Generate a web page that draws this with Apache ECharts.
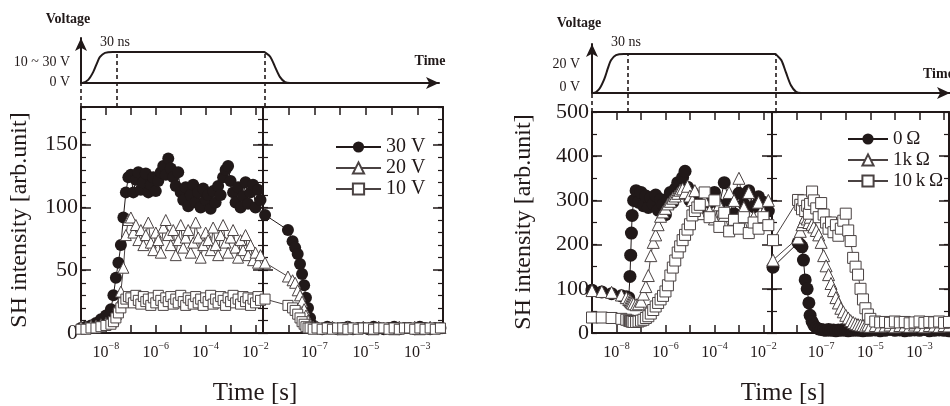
<!DOCTYPE html>
<html>
<head>
<meta charset="utf-8">
<script src="https://cdn.jsdelivr.net/npm/echarts@6/dist/echarts.min.js"></script>
<style>
  html, body { margin: 0; padding: 0; background: #fff; }
  #chart { width: 950px; height: 406px; }
</style>
</head>
<body>
<div id="chart"></div>
<script>
// x values are log10(time / s); every panel has a "pulse on" part and a "pulse off" part
const timeA1 = [-9.0,-8.8,-8.6,-8.4,-8.2,-8.0,-7.8,-7.7,-7.6,-7.5,-7.4,-7.3,-7.2,-7.1,
  -7.0,-6.9,-6.8,-6.7,-6.6,-6.5,-6.4,-6.3,-6.2,-6.1,-6.0,-5.9,-5.8,-5.7,-5.6,-5.5,-5.4,-5.3,-5.2,-5.1,
  -5.0,-4.9,-4.8,-4.7,-4.6,-4.5,-4.4,-4.3,-4.2,-4.1,-4.0,-3.9,-3.8,-3.7,-3.6,-3.5,-3.4,-3.3,-3.2,-3.1,
  -3.0,-2.9,-2.8,-2.7,-2.6,-2.5,-2.4,-2.3,-2.2,-2.1,-2.0,-1.9,-1.8];
const v30A1 = [4,5,6,8,11,14,19,30,44,56,70,92,112,124,
  126,112,122,128,114,120,127,112,118,124,113,121,128,133,126,139,131,124,117,128,
  112,106,116,101,110,118,104,112,100,115,106,110,99,113,104,117,110,124,130,133,
  121,112,104,116,100,109,120,103,112,118,100,114,106];
const v20A1 = [5,5,6,6,7,8,9,11,15,22,33,52,78,90,
  92,80,86,74,82,70,78,88,72,66,80,74,64,84,90,78,70,82,62,74,
  86,68,76,82,64,72,88,76,60,70,80,74,66,84,70,62,78,86,72,64,
  76,82,68,60,74,66,78,62,70,58,64,56,62];
const v10A1 = [3,3,4,4,5,6,7,9,12,16,20,24,27,29,
  28,24,30,26,23,29,25,27,22,28,24,30,26,22,28,25,29,23,27,24,
  30,25,22,28,26,23,29,24,27,22,28,25,30,23,27,24,29,26,22,28,
  25,30,24,27,23,29,25,28,22,27,24,29,26];

const timeA2 = [-8.92,-8.03,-7.85,-7.75,-7.65,-7.56,-7.48,-7.4,-7.33,-7.25,-7.17,-7.05,-6.9,-6.7,-6.5,-6.3,-6.1,-5.9,-5.7,-5.5,-5.3,-5.1,-4.9,-4.7,-4.5,-4.3,-4.1,-3.9,-3.7,-3.5,-3.3,-3.1,-2.9,-2.7,-2.5,-2.3,-2.1];
const v30A2 = [94,82,73,68,63,55,47,38,28,20,12,6,4,3,5,4,3,4,5,3,4,4,3,5,4,3,4,5,3,4,4,3,5,4,3,4,4];
const v20A2 = [56,45,42,40,34,30,25,19,14,10,7,5,5,4,4,5,4,3,5,4,4,5,4,3,5,4,4,3,5,4,4,5,3,4,5,4,4];
const v10A2 = [27,22,20,18,15,12,9,7,5,4,4,3,4,3,4,3,4,4,3,4,3,4,4,3,4,4,3,4,3,4,4,3,4,3,4,3,4];

const timeB1 = [-9.0,-8.6,-8.2,-7.8,-7.6,-7.5,-7.45,-7.42,-7.39,-7.36,-7.3,-7.2,-7.1,-7.0,-6.9,-6.8,-6.7,-6.6,-6.5,-6.4,-6.3,-6.2,-6.1,-6.0,-5.9,-5.8,-5.7,-5.6,-5.5,-5.4,-5.3,-5.2,-5.1,-5.0,-4.9,-4.8,-4.7,-4.6,-4.4,-4.2,-4.0,-3.8,-3.6,-3.4,-3.2,-3.0,-2.8,-2.6,-2.4,-2.2,-2.0,-1.8];
const r0B1 = [97,93,89,84,82,80,128,176,226,266,300,322,296,318,288,310,284,306,292,312,278,302,290,268,304,318,296,326,340,318,352,366,330,300,318,290,306,282,312,296,318,290,340,300,270,316,292,322,286,308,296,276];
const r1kB1 = [96,94,92,86,80,76,74,72,70,68,66,64,66,72,88,105,130,175,205,222,245,264,274,282,292,298,305,310,316,323,326,318,332,310,300,322,290,270,300,276,258,290,266,318,300,350,284,318,262,296,272,300];
const r10kB1 = [35,35,34,32,30,28,27,27,26,26,25,25,26,28,30,34,38,44,52,60,68,76,84,94,108,130,148,164,182,196,210,222,234,246,266,276,284,290,318,262,300,240,272,230,256,236,262,226,250,236,262,244];

const timeB2 = [-8.96,-7.94,-7.85,-7.78,-7.72,-7.65,-7.57,-7.5,-7.45,-7.37,-7.3,-7.2,-7.1,-7.0,-6.9,-6.8,-6.7,-6.6,-6.5,-6.4,-6.3,-6.2,-6.1,-6.0,-5.9,-5.8,-5.7,-5.6,-5.5,-5.4,-5.3,-5.2,-5.1,-5.0,-4.8,-4.6,-4.4,-4.2,-4.0,-3.8,-3.6,-3.4,-3.2,-3.0,-2.8,-2.6,-2.4,-2.2,-2.0,-1.8];
const r0B2 = [149,204,200,195,165,120,100,68,40,26,18,12,9,8,7,6,8,6,7,5,7,6,8,6,5,7,6,8,6,7,5,6,7,6,7,5,6,8,6,7,5,6,7,6,8,5,6,7,6,5];
const r1kB2 = [165,215,230,245,252,262,258,250,262,246,240,232,222,205,175,152,132,112,96,80,68,56,48,40,34,28,24,21,19,18,17,16,18,15,17,15,16,18,14,17,16,15,18,16,14,17,16,15,17,16];
const r10kB2 = [210,301,290,280,300,276,288,270,292,320,300,282,262,294,268,250,236,250,228,244,220,236,254,270,232,208,170,150,132,100,76,56,42,32,26,24,25,23,26,24,25,22,24,26,23,25,24,26,23,25];

// decade ticks and labelled decades (exponents)
const ticksOn = [-8,-7,-6,-5,-4,-3,-2];
const labelsOn = [-8,-6,-4,-2];
const ticksOff = [-8,-7,-6,-5,-4,-3,-2];
const labelsOff = [-7,-5,-3];
const yMajorA = [0,50,100,150];
const yMajorB = [0,100,200,300,400,500];

// voltage pulse sketch (arbitrary time units, voltage relative to the plateau)
const pulseT = [0,0.3,2.0,3.4,4.5,5.3,6.7,8.9,51.2,51.6,52.9,54.2,55.6,57.0,58.4,100];
const pulseV = [0,0,0.1,0.35,0.65,0.84,0.97,1,1,0.97,0.84,0.52,0.19,0.03,0,0];
const markT = [0,10,51.2];
const markTop = [0,1,1];

const INK = '#211919';
const GREY = '#4a4242';
const FONT = '"Liberation Serif","Times New Roman",serif';

const grid = [], xAxis = [], yAxis = [], series = [];

const expRich = {
  b: { fontFamily: FONT, fontSize: 16, color: INK, lineHeight: 20, verticalAlign: 'bottom' },
  s: { fontFamily: FONT, fontSize: 10, color: INK, lineHeight: 20, verticalAlign: 'top' }
};
function expLabel(v) {
  return '{b|10}{s|\u2212' + Math.abs(v) + '}';
}

function plotGrid(box, xr, yr) {
  const gi = grid.length;
  grid.push(box);
  const xi = xAxis.length, yi = yAxis.length;
  const lineStyle = { color: INK, width: 2 };
  ['bottom', 'top'].forEach(pos => xAxis.push({
    type: 'value', gridIndex: gi, position: pos, min: xr.min, max: xr.max,
    axisLine: { onZero: false, lineStyle },
    axisTick: { inside: true, length: 8, customValues: xr.ticks, lineStyle: { color: INK, width: 1.5 } },
    axisLabel: pos === 'bottom'
      ? { customValues: xr.labels, formatter: expLabel, rich: expRich, margin: 8 }
      : { show: false },
    splitLine: { show: false }
  }));
  ['left', 'right'].forEach(pos => {
    yAxis.push({
      type: 'value', gridIndex: gi, position: pos, min: 0, max: yr.max,
      axisLine: { onZero: false, lineStyle },
      axisTick: { inside: true, length: 10, customValues: yr.major, lineStyle: { color: INK, width: 1.5 } },
      axisLabel: pos === 'left' && yr.labels
        ? { customValues: yr.major, margin: 3, fontFamily: FONT, fontSize: 22, color: INK }
        : { show: false },
      splitLine: { show: false }
    });
    yAxis.push({
      type: 'value', gridIndex: gi, position: pos, min: 0, max: yr.max, interval: yr.minor,
      axisLine: { show: false },
      axisTick: { inside: true, length: 5, lineStyle: { color: INK, width: 1.2 } },
      axisLabel: { show: false },
      splitLine: { show: false }
    });
  });
  return { xi, yi };
}

const marks = {
  dot: { symbol: 'circle', size: 12, fill: INK, border: INK, line: INK },
  tri: { symbol: 'triangle', size: 11, fill: '#fff', border: GREY, line: GREY },
  sq: { symbol: 'rect', size: 10, fill: '#fff', border: GREY, line: GREY }
};

function addSeries(name, ax, t, v, m, size) {
  series.push({
    type: 'line', name, xAxisIndex: ax.xi, yAxisIndex: ax.yi,
    data: t.map((x, i) => [x, v[i]]),
    symbol: m.symbol, symbolSize: size || m.size,
    lineStyle: { color: m.line, width: 1 },
    itemStyle: { color: m.fill, borderColor: m.border, borderWidth: m.symbol === 'circle' ? 0 : 1 },
    emphasis: { disabled: true }
  });
}

function pulse(left, top, width, height, yMax, dashBottom) {
  const lineStyle = { color: INK, width: 2 };
  let gi = grid.length;
  grid.push({ left, top, width, height });
  const xi = xAxis.length, yi = yAxis.length;
  xAxis.push({ type: 'value', gridIndex: gi, min: 0, max: 100,
    axisLine: { symbol: ['none', 'arrow'], symbolSize: [9, 13], lineStyle },
    axisTick: { show: false }, axisLabel: { show: false }, splitLine: { show: false } });
  yAxis.push({ type: 'value', gridIndex: gi, min: 0, max: yMax,
    axisLine: { symbol: ['none', 'arrow'], symbolSize: [9, 13], lineStyle },
    axisTick: { show: false }, axisLabel: { show: false }, splitLine: { show: false } });
  series.push({ type: 'line', xAxisIndex: xi, yAxisIndex: yi, symbol: 'none', smooth: 0.3,
    data: pulseT.map((x, i) => [x, pulseV[i]]), lineStyle, silent: true });

  // same time scale, stretched down to the plot below for the dashed guides
  const scale = height / yMax;
  gi = grid.length;
  grid.push({ left, top, width, height: height + dashBottom });
  const yMin = -dashBottom / scale;
  xAxis.push({ type: 'value', gridIndex: gi, min: 0, max: 100, show: false });
  yAxis.push({ type: 'value', gridIndex: gi, min: yMin, max: yMax, show: false });
  series.push({ type: 'lines', coordinateSystem: 'cartesian2d',
    xAxisIndex: xAxis.length - 1, yAxisIndex: yAxis.length - 1,
    data: markT.map((t, i) => ({ coords: [[t, yMin], [t, markTop[i]]] })),
    lineStyle: { color: INK, width: 1.6, type: [4, 3], opacity: 1 }, silent: true });
}

// left panel: 10-30 V
const a1 = plotGrid({ left: 81, top: 107, width: 182, height: 226 },
  { min: -9, max: -1.7, ticks: ticksOn, labels: labelsOn }, { max: 180, major: yMajorA, minor: 10, labels: true });
const a2 = plotGrid({ left: 263, top: 107, width: 180, height: 226 },
  { min: -9, max: -2, ticks: ticksOff, labels: labelsOff }, { max: 180, major: yMajorA, minor: 10, labels: false });
addSeries('30 V', a1, timeA1, v30A1, marks.dot);
addSeries('30 V', a2, timeA2, v30A2, marks.dot);
addSeries('20 V', a1, timeA1, v20A1, marks.tri);
addSeries('20 V', a2, timeA2, v20A2, marks.tri);
addSeries('10 V', a1, timeA1, v10A1, marks.sq);
addSeries('10 V', a2, timeA2, v10A2, marks.sq);

// right panel: series resistance
const b1 = plotGrid({ left: 592, top: 112, width: 180, height: 221 },
  { min: -9, max: -1.65, ticks: ticksOn, labels: labelsOn }, { max: 500, major: yMajorB, minor: 50, labels: true });
const b2 = plotGrid({ left: 772, top: 112, width: 177, height: 221 },
  { min: -9, max: -1.8, ticks: ticksOff, labels: labelsOff }, { max: 500, major: yMajorB, minor: 50, labels: false });
addSeries('0\u2009Ω', b1, timeB1, r0B1, marks.dot, 13);
addSeries('0\u2009Ω', b2, timeB2, r0B2, marks.dot, 13);
addSeries('1k\u2009Ω', b1, timeB1, r1kB1, marks.tri, 12);
addSeries('1k\u2009Ω', b2, timeB2, r1kB2, marks.tri, 12);
addSeries('10\u2009k\u2009Ω', b1, timeB1, r10kB1, marks.sq, 11);
addSeries('10\u2009k\u2009Ω', b2, timeB2, r10kB2, marks.sq, 11);

pulse(81, 38, 358, 45, 1.45, 24);
pulse(592, 44, 358, 49, 1.256, 19);

function note(text, x, y, align, size, weight) {
  return { type: 'text', x, y, silent: true,
    style: { text, fill: INK, font: (weight || 'normal') + ' ' + size + 'px ' + FONT, align, verticalAlign: 'middle' } };
}
function vnote(text, x, y) {
  const n = note(text, x, y, 'center', 24);
  n.rotation = Math.PI / 2;
  return n;
}

const graphic = [
  note('Voltage', 68, 19, 'center', 14, 'bold'),
  note('30 ns', 115, 42, 'center', 14),
  note('10 ~ 30 V', 70, 62, 'right', 14),
  note('0 V', 70, 82, 'right', 14),
  note('Time', 430, 61, 'center', 14, 'bold'),
  note('Voltage', 579, 23, 'center', 14, 'bold'),
  note('30 ns', 626, 42, 'center', 14),
  note('20 V', 580, 64, 'right', 14),
  note('0 V', 580, 87, 'right', 14),
  note('Time', 923, 74, 'left', 14, 'bold'),
  vnote('SH intensity [arb.unit]', 20, 220),
  vnote('SH intensity [arb.unit]', 524, 222),
  note('Time [s]', 255, 393, 'center', 25),
  note('Time [s]', 783, 393, 'center', 25)
];

const legendText = { fontFamily: FONT, fontSize: 20, color: INK, lineHeight: 20 };

const chart = echarts.init(document.getElementById('chart'), null, { renderer: 'canvas' });
chart.setOption({
  backgroundColor: '#fff',
  animation: false,
  grid, xAxis, yAxis, series, graphic,
  legend: [
    { data: ['30 V', '20 V', '10 V'], left: 330, top: 132, orient: 'vertical',
      itemWidth: 45, itemHeight: 14, itemGap: 1, selectedMode: false, textStyle: legendText },
    { data: ['0\u2009Ω', '1k\u2009Ω', '10\u2009k\u2009Ω'], left: 842, top: 124, orient: 'vertical',
      itemWidth: 40, itemHeight: 14, itemGap: 1, selectedMode: false,
      textStyle: Object.assign({}, legendText, { fontSize: 19 }) }
  ]
});
</script>
</body>
</html>
